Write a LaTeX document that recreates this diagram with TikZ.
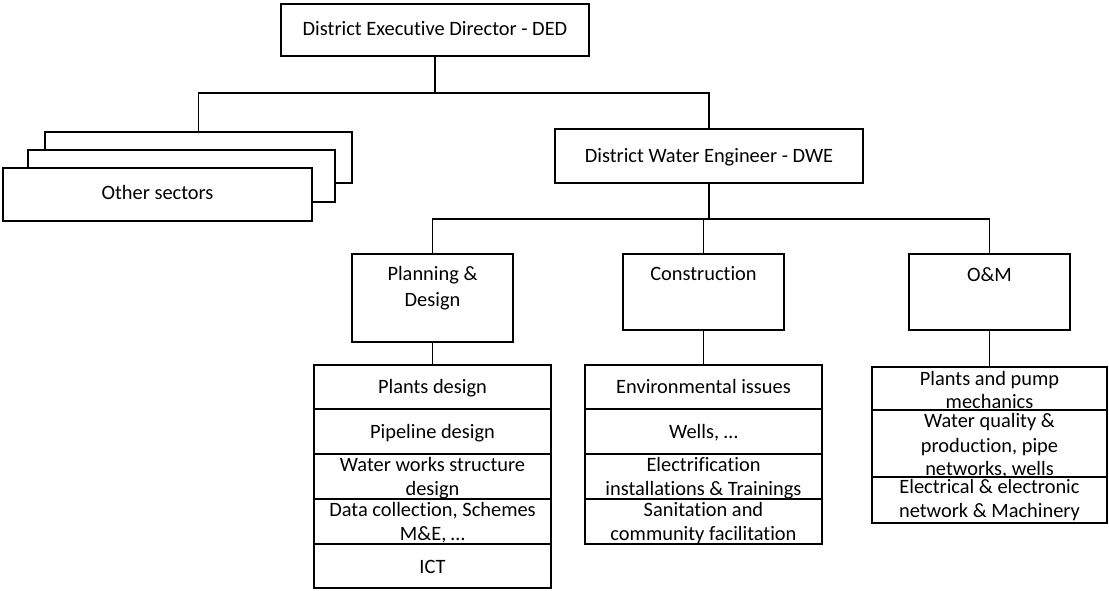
\documentclass[tikz,border=0pt]{standalone}
\usepackage{fontspec}
\setmainfont{Carlito}[Ligatures={NoCommon}]
\tikzset{
  box/.style={draw, fill=white, line width=2.8pt, rectangle, inner sep=0pt, outer sep=0pt},
  link/.style={line width=1.3pt},
  txt/.style={anchor=base, inner sep=0pt, outer sep=0pt, font=\fontsize{20.4}{24.5}\selectfont},
}
\begin{document}
\begin{tikzpicture}[x=1pt, y=-1pt, line join=miter]
\useasboundingbox (0,0) rectangle (1109,591);

% top level
\node[box, minimum width=308, minimum height=52] (ded) at (435,30) {};
\node[txt] (dedt) at (435,36) {District Executive Director - DED};

% stacked sector boxes, back to front
\node[box, minimum width=307, minimum height=51] (os3) at (198.5,157.5) {};
\node[box, minimum width=307, minimum height=52] (os2) at (181.5,176) {};
\node[box, minimum width=309, minimum height=53] (os1) at (157.5,194.5) {};
\node[txt] (os1t) at (157.5,200) {Other sectors};

\node[box, minimum width=308, minimum height=54] (dwe) at (709,156) {};
\node[txt] (dwet) at (709,163) {District Water Engineer - DWE};

% units
\node[box, minimum width=161, minimum height=88] (pd) at (432.5,298) {};
\node[txt] (pdta) at (432.5,280.5) {Planning \&};
\node[txt] (pdtb) at (432.5,306) {Design};

\node[box, minimum width=161, minimum height=76] (co) at (703.5,292) {};
\node[txt] (cot) at (703.5,280.5) {Construction};

\node[box, minimum width=161, minimum height=76] (om) at (989.5,292) {};
\node[txt] (omt) at (989.5,281) {O\&M};

% planning & design tasks
\node[box, minimum width=237, minimum height=44] (pd1) at (432.5,387) {};
\node[txt] (pd1t) at (432.5,393) {Plants design};
\node[box, minimum width=237, minimum height=45] (pd2) at (432.5,431.5) {};
\node[txt] (pd2t) at (432.5,438.5) {Pipeline design};
\node[box, minimum width=237, minimum height=45] (pd3) at (432.5,476.5) {};
\node[txt] (pd3a) at (432.5,471) {Water works structure};
\node[txt] (pd3b) at (432.5,495) {design};
\node[box, minimum width=237, minimum height=45] (pd4) at (432.5,521.5) {};
\node[txt] (pd4a) at (432.5,516) {Data collection, Schemes};
\node[txt] (pd4b) at (432.5,540) {M\&E, …};
\node[box, minimum width=237, minimum height=44] (pd5) at (432.5,566) {};
\node[txt] (pd5t) at (432.5,573) {ICT};

% construction tasks
\node[box, minimum width=237, minimum height=44] (co1) at (703.5,387) {};
\node[txt] (co1t) at (703.5,393) {Environmental issues};
\node[box, minimum width=237, minimum height=45] (co2) at (703.5,431.5) {};
\node[txt] (co2t) at (703.5,438.5) {Wells, …};
\node[box, minimum width=237, minimum height=45] (co3) at (703.5,476.5) {};
\node[txt] (co3a) at (703.5,471) {Electrification};
\node[txt] (co3b) at (703.5,495) {installations \& Trainings};
\node[box, minimum width=237, minimum height=45] (co4) at (703.5,521.5) {};
\node[txt] (co4a) at (703.5,516) {Sanitation and};
\node[txt] (co4b) at (703.5,540) {community facilitation};

% O&M tasks
\node[box, minimum width=235, minimum height=43] (om1) at (989.5,388.5) {};
\node[txt] (om1a) at (989.5,385) {Plants and pump};
\node[txt] (om1b) at (989.5,408) {mechanics};
\node[box, minimum width=235, minimum height=67] (om2) at (989.5,443.5) {};
\node[txt] (om2a) at (989.5,427) {Water quality \&};
\node[txt] (om2b) at (989.5,452) {production, pipe};
\node[txt] (om2c) at (989.5,475) {networks, wells};
\node[box, minimum width=235, minimum height=46] (om3) at (989.5,500) {};
\node[txt] (om3a) at (989.5,493) {Electrical \& electronic};
\node[txt] (om3b) at (989.5,517) {network \& Machinery};

% connectors
\coordinate (j1) at (435,93);
\coordinate (j2) at (709,219);
\draw[link] (ded.south) -- (j1);
\draw[link] (j1) -| (os3.north);
\draw[link] (j1) -| (dwe.north);
\draw[link] (dwe.south) -- (j2);
\draw[link] (j2) -| (pd.north);
\draw[link] (j2) -| (om.north);
\draw[link] (co.north) -- (co.north |- j2);
\draw[link] (pd.south) -- (pd1.north);
\draw[link] (co.south) -- (co1.north);
\draw[link] (om.south) -- (om1.north);
\end{tikzpicture}
\end{document}
